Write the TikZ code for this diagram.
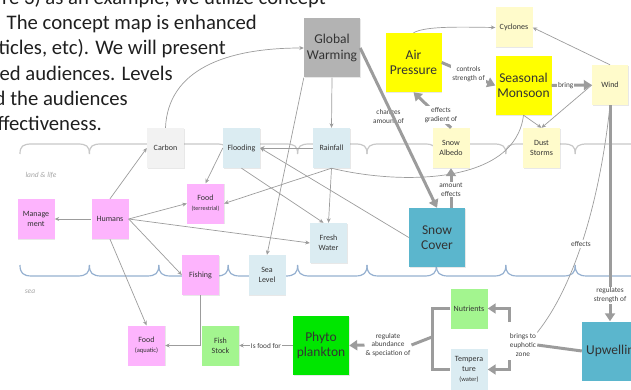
\documentclass[tikz,border=0pt]{standalone}
\usepackage{fontspec}
\setmainfont{Carlito}
\usepackage{xcolor}
\usepackage{tikz}
\usetikzlibrary{calc, positioning, arrows.meta, shadows}

\definecolor{gwgray}{HTML}{B3B3B3}
\definecolor{hotyellow}{HTML}{FFFF00}
\definecolor{paleyellow}{HTML}{FFFBCB}
\definecolor{carbongray}{HTML}{F2F2F2}
\definecolor{paleblue}{HTML}{DBECF2}
\definecolor{humanpink}{HTML}{FDB4FD}
\definecolor{fishgreen}{HTML}{A3F58F}
\definecolor{phytogreen}{HTML}{00E600}
\definecolor{oceanteal}{HTML}{5BB6CD}
\definecolor{linegray}{HTML}{9C9C9C}
\definecolor{landgray}{HTML}{C8C8C8}
\definecolor{seablue}{HTML}{95B0D0}

\begin{document}
\begin{tikzpicture}[x=1pt, y=-1pt,
	box/.style={inner sep=1pt, minimum width=37pt, minimum height=40pt, align=center, text=black!80,
		font=\fontsize{8}{10}\selectfont, drop shadow={opacity=0.18, shadow xshift=0.8pt, shadow yshift=-0.8pt}},
	bigbox/.style={box, minimum width=56pt, minimum height=59pt, font=\fontsize{13.5}{15.5}\selectfont},
	link/.style={draw=linegray, line width=0.7pt, -{Stealth[length=4.5pt, width=4pt]}},
	plainline/.style={draw=linegray, line width=0.7pt},
	heavy/.style={draw=linegray, line width=3pt},
	heavylink/.style={heavy, -{Triangle[length=8pt, width=10pt]}},
	lbl/.style={font=\fontsize{7.3}{8.8}\selectfont, text=black!75, align=center, inner sep=1pt},
	para/.style={font=\fontsize{20.7}{25}\selectfont, text=black!88, inner sep=0pt, anchor=base east},
	zone/.style={font=\itshape\fontsize{7.5}{9}\selectfont, text=black!35}]

	\useasboundingbox (0,0) rectangle (631,390);
	\clip (0,0) rectangle (631,390);

	% text behind the map %
	\node[para] (txta) at (326,5) {re 3) as an example, we utilize concept};
	\node[para] (txtb) at (257,30) {. The concept map is enhanced};
	\node[para] (txtc) at (226,55) {ticles, etc). We will present};
	\node[para] (txtd) at (173,81) {ed audiences. Levels};
	\node[para] (txte) at (128,106) {d the audiences};
	\node[para] (txtf) at (102,131) {ffectiveness.};

	% zones %
	\foreach \k in {0,...,8}{
		\pgfmathsetmacro{\wa}{20+69.4*\k}
		\pgfmathsetmacro{\wb}{\wa+69.4}
		\draw[landgray, line width=1.2pt] (\wa,154) .. controls (\wa,146) and (\wa+3,144) .. (\wa+12,144)
			-- (\wb-12,144) .. controls (\wb-3,144) and (\wb,146) .. (\wb,154);
		\draw[seablue, line width=1.2pt] (\wa,265) .. controls (\wa,273) and (\wa+3,276) .. (\wa+12,276)
			-- (\wb-12,276) .. controls (\wb-3,276) and (\wb,273) .. (\wb,265);
	}
	\node[zone] (landlbl) at (41,175) {land \& life};
	\node[zone] (sealbl) at (30,292) {sea};

	% nodes - climate %
	\node[bigbox, fill=gwgray] (gw) at (332,48) {Global\\Warming};
	\node[bigbox, fill=hotyellow] (airp) at (413.5,62.5) {Air\\Pressure};
	\node[bigbox, fill=hotyellow] (monsoon) at (523.5,85.5) {Seasonal\\Monsoon};
	\node[box, fill=paleyellow] (cyclones) at (514,27.5) {Cyclones};
	\node[box, fill=paleyellow, minimum width=36pt] (wind) at (610,85) {Wind};
	\node[box, fill=paleyellow] (albedo) at (451,148) {Snow\\Albedo};
	\node[box, fill=paleyellow] (dust) at (541.5,148) {Dust\\Storms};

	% nodes - land %
	\node[box, fill=carbongray] (carbon) at (165.5,148) {Carbon};
	\node[box, fill=paleblue] (flooding) at (241.5,148) {Flooding};
	\node[box, fill=paleblue] (rainfall) at (331.5,148) {Rainfall};
	\node[box, fill=humanpink] (foodt) at (205.5,203.5) {Food\\{\fontsize{6}{7}\selectfont (terrestrial)}};
	\node[box, fill=humanpink] (manage) at (36,219) {Manage\\ment};
	\node[box, fill=humanpink] (humans) at (110,219) {Humans};
	\node[box, fill=paleblue] (fresh) at (328.5,243) {Fresh\\Water};
	\node[bigbox, fill=oceanteal] (snowcov) at (437,237.5) {Snow\\Cover};

	% nodes - sea %
	\node[box, fill=humanpink] (fishing) at (200.5,275) {Fishing};
	\node[box, fill=paleblue] (sealevel) at (267,275) {Sea\\Level};
	\node[box, fill=humanpink] (fooda) at (146.5,345.5) {Food\\{\fontsize{6.5}{8}\selectfont (aquatic)}};
	\node[box, fill=fishgreen] (fishstock) at (220.5,345.5) {Fish\\Stock};
	\node[bigbox, fill=phytogreen] (phyto) at (321,345.5) {Phyto\\plankton};
	\node[box, fill=fishgreen] (nutrients) at (469,308.5) {Nutrients};
	\node[box, fill=paleblue, minimum height=41pt] (temp) at (469,369.5) {Tempera\\ture\\{\fontsize{6.5}{8}\selectfont (water)}};
	\node[bigbox, fill=oceanteal, minimum width=63pt] (upwell) at (613.5,351) {Upwelling};

	\node[lbl] (changes) at (388.5,116.5) {changes\\amount of};
	\node[lbl] (brings) at (523,345) {brings to\\euphotic\\zone};
	\node[lbl] (regulate) at (388,345) {regulate\\abundance\\\& speciation of};

	% edges - thin %
	\draw[link] (carbon.north) .. controls (168,70) and (225,48) .. (gw.west);
	\draw[link] (humans.north) -- (carbon.west);
	\draw[link] (humans.west) -- (manage.east);
	\draw[link] (humans.east) -- (foodt.west);
	\draw[link] (humans.east) -- (fresh.west);
	\draw[link] (humans.east) -- (fishing.west);
	\draw[link] (humans.south) -- (fooda.north);
	\draw[link] (flooding.west) -- (foodt.north);
	\draw[link] (flooding.south) -- ([xshift=-5pt]fresh.north);
	\draw[link] (rainfall.west) -- (flooding.east);
	\draw[link] (rainfall.south) -- (foodt.east);
	\draw[link] (rainfall.south) -- (fresh.north);
	\draw[link] (gw.south) -- (rainfall.north);
	\draw[link] (gw.south west) -- (sealevel.north);
	\draw[link] (snowcov.west) -- (flooding.east);
	\draw[plainline] (monsoon.south) .. controls (515,185) and (400,185) .. (rainfall.south);
	\draw[link] (wind.north) -- (cyclones.east);
	\draw[link] (airp.north) .. controls (425,26) and (460,27) .. (cyclones.west);
	\draw[link] (wind.west) -- (dust.north);
	\draw[link] (monsoon.south) -- (dust.north);
	\draw[link] (fishing.south) |- (fooda.east);
	\draw[link] (phyto.west) -- node[lbl, fill=white] (isfood) {Is food for} (fishstock.east);
	\draw[plainline] (wind.south) .. controls (600,200) and (575,285) .. (brings.north east);
	\node[lbl, fill=white] (effectsw) at (581,244) {effects};

	% edges - thick %
	\draw[heavylink] (gw.east) -- (snowcov.north);
	\draw[heavylink] (airp.east) -- node[lbl, fill=white] (ctrl) {controls\\strength of} (monsoon.west);
	\draw[heavylink] (albedo.north) -- (airp.south);
	\node[lbl, fill=white] (gradient) at (441,115) {effects\\gradient of};
	\draw[heavylink] (monsoon.east) -- node[lbl, fill=white, pos=0.35] (bring) {bring} (wind.west);
	\draw[heavylink] (albedo.south |- snowcov.north) -- node[lbl, fill=white, pos=0.46] (amount) {amount\\effects} (albedo.south);
	\draw[heavylink] (wind.south) -- node[lbl, fill=white, pos=0.88] (regul) {regulates\\strength of} (wind.south |- upwell.north);
	\draw[heavy] (upwell.west) -- (brings.east);
	\coordinate (upfork) at (509,322);
	\coordinate (lowfork) at (509,360);
	\draw[heavylink] (upfork) |- (nutrients.east);
	\draw[heavylink] (lowfork) |- (temp.east);
	\coordinate (bracket) at (432,337);
	\draw[heavy] (nutrients.west) -| (bracket) |- (temp.west);
	\draw[heavy] (bracket) -- (regulate.east);
	\draw[heavylink] (regulate.west) -- (phyto.east);

\end{tikzpicture}
\end{document}
